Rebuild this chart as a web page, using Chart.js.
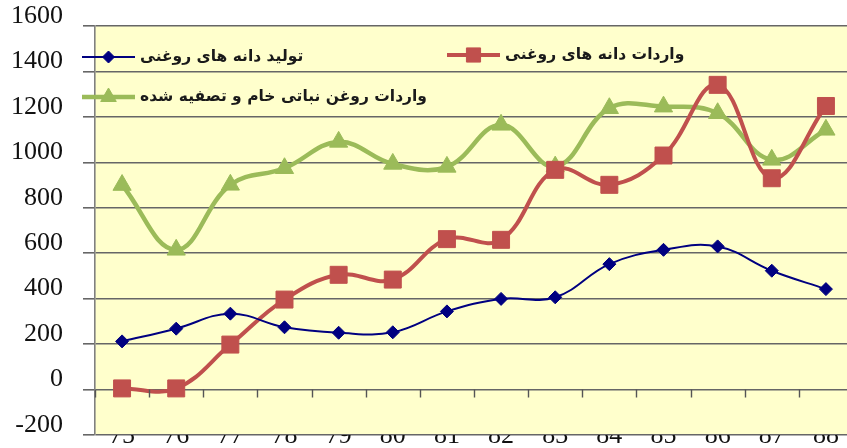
<!DOCTYPE html>
<html>
<head>
<meta charset="utf-8">
<script src="https://cdn.jsdelivr.net/npm/chart.js@4/dist/chart.umd.min.js"></script>
<style>
  html, body { margin: 0; padding: 0; background: #ffffff; overflow: hidden; }
  #wrap { position: relative; width: 856px; height: 448px; }
</style>
</head>
<body>
<div id="wrap"><canvas id="c"></canvas></div>
<script>
// ---- data ----
const years = ['75','76','77','78','79','80','81','82','83','84','85','86','87','88'];
const seedProduction = [212, 268, 334, 274, 250, 252, 344, 399, 406, 552, 615, 630, 523, 442];
const seedImports    = [5, 5, 198, 396, 505, 484, 662, 659, 967, 901, 1030, 1341, 930, 1248];
const oilImports     = [900, 615, 901, 974, 1090, 993, 980, 1165, 981, 1238, 1245, 1216, 1011, 1143];
const seriesNames = ['تولید دانه های روغنی', 'واردات دانه های روغنی', 'واردات روغن نباتی خام و تصفیه شده'];
const yMin = -200, yMax = 1600, yStep = 200;

const plotBg = {
  id: 'plotBg',
  beforeDraw(chart) {
    const { ctx, chartArea: a } = chart;
    ctx.save();
    ctx.fillStyle = '#FFFFCC';
    ctx.fillRect(a.left, a.top, a.right - a.left, a.bottom - a.top);
    ctx.restore();
  }
};

// small tick marks on the zero line, between categories
const zeroTicks = {
  id: 'zeroTicks',
  afterDatasetsDraw(chart) {
    const { ctx } = chart;
    const xs = chart.scales.x, ys = chart.scales.y;
    const y0 = ys.getPixelForValue(0);
    const n = xs.ticks.length;
    const half = (xs.getPixelForValue(1) - xs.getPixelForValue(0)) / 2;
    ctx.save();
    ctx.strokeStyle = '#555';
    ctx.lineWidth = 1.4;
    ctx.beginPath();
    for (let i = 0; i <= n; i++) {
      const x = Math.round(xs.getPixelForValue(0) - half + i * 2 * half) + 0.5;
      ctx.moveTo(x, y0);
      ctx.lineTo(x, y0 + 8);
    }
    ctx.stroke();
    ctx.restore();
  }
};

const customLegend = {
  id: 'customLegend',
  afterDraw(chart) {
    const ctx = chart.ctx;
    const spots = [[82, 57], [447, 55], [82, 97]];
    const lw = [2, 4, 4.5];
    const radii = [6, 10, 9];
    chart.data.datasets.forEach((ds, i) => {
      const [x, y] = spots[i];
      ctx.save();
      ctx.strokeStyle = ds.borderColor;
      ctx.lineWidth = lw[i];
      ctx.beginPath();
      ctx.moveTo(x, y);
      ctx.lineTo(x + 53, y);
      ctx.stroke();
      ctx.fillStyle = ds.backgroundColor;
      ctx.strokeStyle = ds.borderColor;
      ctx.lineWidth = 1;
      Chart.helpers.drawPoint(ctx, { pointStyle: ds.pointStyle, radius: radii[i], borderWidth: 1, rotation: 0 }, x + 26.5, y);
      ctx.fillStyle = '#1a1a1a';
      ctx.font = 'bold 15.5px "DejaVu Sans"';
      ctx.textAlign = 'left';
      ctx.textBaseline = 'middle';
      ctx.fillText(ds.label, x + 58, y);
      ctx.restore();
    });
  }
};

new Chart(document.getElementById('c'), {
  type: 'line',
  data: {
    labels: years,
    datasets: [
      {
        label: seriesNames[0], data: seedProduction,
        borderColor: '#000080', backgroundColor: '#000080', borderWidth: 2,
        pointStyle: 'rectRot', pointRadius: 6.5, pointBorderWidth: 1, tension: 0.4
      },
      {
        label: seriesNames[1], data: seedImports,
        borderColor: '#C0504D', backgroundColor: '#C0504D', borderWidth: 4,
        pointStyle: 'rect', pointRadius: 12, pointBorderWidth: 1, tension: 0.4
      },
      {
        label: seriesNames[2], data: oilImports,
        borderColor: '#9BBB59', backgroundColor: '#9BBB59', borderWidth: 4.5,
        pointStyle: 'triangle', pointRadius: 10.5, pointBorderWidth: 1, tension: 0.4
      }
    ]
  },
  options: {
    responsive: true,
    maintainAspectRatio: false,
    animation: false,
    layout: { autoPadding: false, padding: { left: -9, top: 26, right: 3, bottom: 0 } },
    plugins: { legend: { display: false }, tooltip: { enabled: false } },
    scales: {
      x: {
        type: 'category',
        position: 'bottom',
        offset: true,
        grid: { display: false, drawTicks: false },
        border: { display: false },
        afterFit: (s) => { s.height = 13; },
        ticks: {
          color: '#111',
          font: { family: '"Liberation Serif"', size: 26, lineHeight: 0.92 },
          padding: -11,
          maxRotation: 0, autoSkip: false
        }
      },
      y: {
        min: yMin, max: yMax,
        grid: { color: '#666', lineWidth: 1.6, tickLength: 12 },
        border: { display: true, color: '#808080', width: 1.6 },
        afterFit: (s) => { s.paddingTop = 0; s.paddingBottom = 0; },
        ticks: {
          stepSize: yStep,
          color: '#111',
          padding: 20,
          crossAlign: 'near',
          labelOffset: -10,
          font: { family: '"Liberation Serif"', size: 26, lineHeight: 1 },
          callback: (v) => String(v)
        }
      }
    }
  },
  plugins: [plotBg, zeroTicks, customLegend]
});
</script>
</body>
</html>
